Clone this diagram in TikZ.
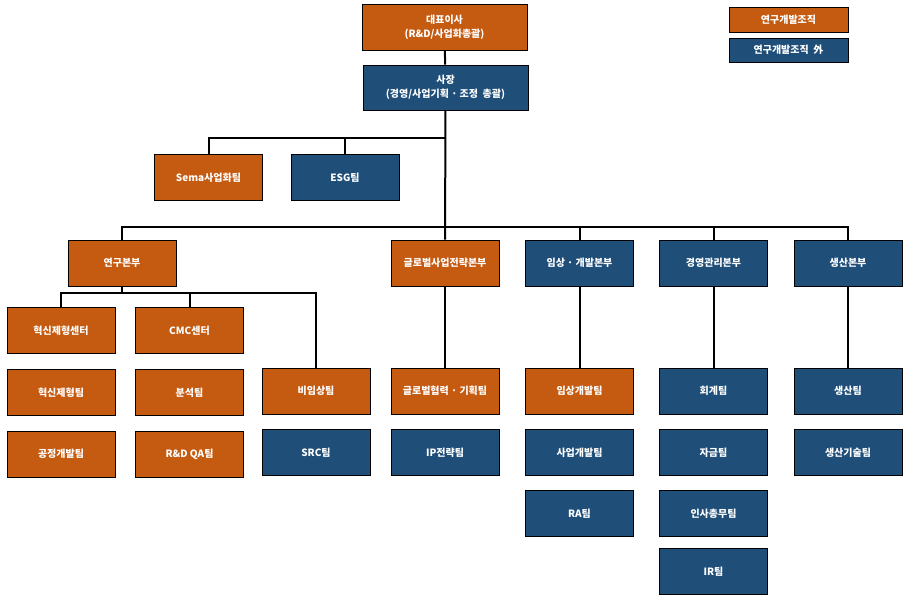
\documentclass[tikz,border=0pt]{standalone}
\usepackage{fontspec}
\usepackage{tikz}
\usetikzlibrary{positioning,calc}
\newfontfamily\krfont{Noto Sans CJK KR}
\definecolor{rndorange}{HTML}{C55A11}
\definecolor{mgmtblue}{HTML}{1F4E79}

\begin{document}
\begin{tikzpicture}[
  x=1pt,y=-1pt,
  unit/.style={draw=black,line width=0.8pt,minimum width=108pt,minimum height=46pt,
    inner sep=0pt,align=center,text=white,font=\krfont\bfseries\fontsize{10}{14}\selectfont},
  rndbox/.style={unit,fill=rndorange},
  extbox/.style={unit,fill=mgmtblue},
  topbox/.style={minimum width=165pt},
  keybox/.style={minimum width=119pt,minimum height=24pt},
  link/.style={line width=2pt,color=black}
]
\useasboundingbox (0,0) rectangle (917,595);

% top
\node[rndbox,topbox] (ceo) at (444.5,27) {대표이사\\(R\&D/사업화총괄)};
\node[extbox,topbox,minimum height=45pt] (pres) at (445.5,87.5) {사장\\(경영/사업기획 · 조정~~총괄)};
\draw[link] (ceo) -- (pres);

% legend
\node[rndbox,keybox,minimum height=25pt] (keyrnd) at (788.5,19.5) {연구개발조직};
\node[extbox,keybox] (keyext) at (788.5,50) {연구개발조직~~外};

% staff teams
\node[rndbox] (sema) at (208.5,177.5) {Sema사업화팀};
\node[extbox] (esg) at (345,177.5) {ESG팀};
\coordinate (staffbar) at (444.5,138);
\draw[link] (staffbar) -| (sema.north);
\draw[link] (staffbar) -| (esg.north);

% divisions
\node[rndbox] (rnd) at (122,263) {연구본부};
\node[rndbox] (glob) at (445,263) {글로벌사업전략본부};
\node[extbox] (clin) at (579.5,263) {임상 · 개발본부};
\node[extbox] (mgmt) at (713.5,263) {경영관리본부};
\node[extbox] (prod) at (848,263) {생산본부};
\coordinate (mainbar) at (444.5,227);
\draw[link] (pres) -- (glob);
\draw[link] (mainbar) -| (rnd.north);
\draw[link] (mainbar) -| (clin.north);
\draw[link] (mainbar) -| (mgmt.north);
\draw[link] (mainbar) -| (prod.north);

% research division
\node[rndbox] (inno) at (61,330.5) {혁신제형센터};
\node[rndbox] (cmc) at (189.5,330.5) {CMC센터};
\node[rndbox,below=15pt of inno] (innoteam) {혁신제형팀};
\node[rndbox,below=15pt of innoteam] (proc) {공정개발팀};
\node[rndbox,below=15pt of cmc] (anal) {분석팀};
\node[rndbox,below=15pt of anal] (qa) {R\&D QA팀};
\node[rndbox] (nonclin) at (316,391) {비임상팀};
\node[extbox,below=15pt of nonclin] (src) {SRC팀};
\coordinate (rndbar) at ($(rnd.south)+(0,7)$);
\draw[link] (rnd.south) -- (rndbar);
\draw[link] (rndbar) -| (inno.north);
\draw[link] (rndbar) -| (cmc.north);
\draw[link] (rndbar) -| (nonclin.north);

% other divisions
\node[rndbox] (globplan) at (445,391) {글로벌협력 · 기획팀};
\node[extbox,below=15pt of globplan] (ipteam) {IP전략팀};
\draw[link] (glob) -- (globplan);

\node[rndbox] (clindev) at (579.5,391) {임상개발팀};
\node[extbox,below=15pt of clindev] (busdev) {사업개발팀};
\node[extbox,below=14pt of busdev] (ra) {RA팀};
\draw[link] (clin) -- (clindev);

\node[extbox] (acct) at (713.5,391) {회계팀};
\node[extbox,below=15pt of acct] (fund) {자금팀};
\node[extbox,below=14pt of fund] (hr) {인사총무팀};
\node[extbox,below=11pt of hr] (irteam) {IR팀};
\draw[link] (mgmt) -- (acct);

\node[extbox] (prodteam) at (848,391) {생산팀};
\node[extbox,below=15pt of prodteam] (prodtech) {생산기술팀};
\draw[link] (prod) -- (prodteam);
\end{tikzpicture}
\end{document}
